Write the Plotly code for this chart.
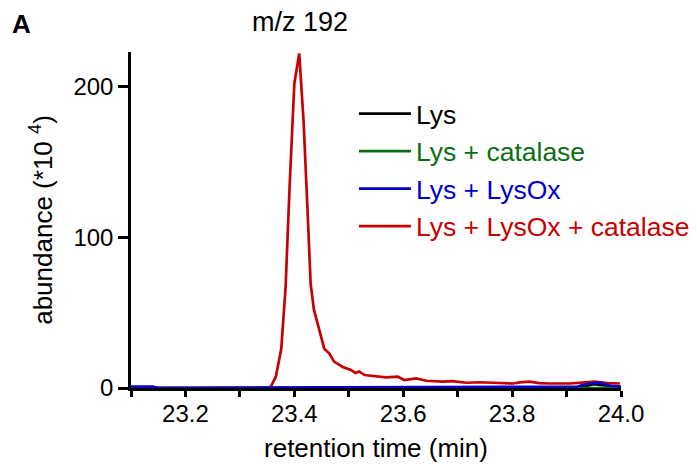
import plotly.graph_objects as go

# Retention time (min) and abundance (*10^4)
t_red = [23.10, 23.35, 23.357, 23.366, 23.376, 23.384, 23.391, 23.400, 23.409, 23.417,
         23.424, 23.430, 23.436, 23.446, 23.455, 23.464, 23.473, 23.489, 23.504, 23.512,
         23.519, 23.529, 23.550, 23.568, 23.590, 23.602, 23.624, 23.642, 23.673, 23.690,
         23.716, 23.740, 23.765, 23.784, 23.802, 23.814, 23.832, 23.850, 23.869, 23.906,
         23.930, 23.952, 23.975, 23.998]
v_red = [0, 0, 1, 7.5, 26, 67, 131, 202, 222, 177,
         120, 69, 52, 38, 26, 23, 17.5, 14, 12, 10,
         11, 8.6, 8, 7, 7.5, 5.3, 6.4, 4.8, 4.2, 4.5,
         3.5, 3.8, 3.5, 3.2, 3, 3.7, 4.2, 3.3, 3, 3,
         3.5, 4.2, 3.2, 3]

t_blue = [23.10, 23.14, 23.15, 23.92, 23.94, 23.96, 23.98, 24.0]
v_blue = [1, 1, 0, 1, 3, 3.5, 1.5, 1]

t_black = [23.10, 23.92, 23.95, 23.98, 24.0]
v_black = [0, 0, 2.5, 1, 0.5]

t_green = [23.10, 24.0]
v_green = [0, 0]

series = [
    ("Lys", t_black, v_black, "#000000"),
    ("Lys + catalase", t_green, v_green, "#0b6e14"),
    ("Lys + LysOx + catalase", t_red, v_red, "#c80000"),
    ("Lys + LysOx", t_blue, v_blue, "#0000c8"),
]
ranks = {"Lys": 1, "Lys + catalase": 2, "Lys + LysOx": 3, "Lys + LysOx + catalase": 4}

x_ticks = [23.1, 23.2, 23.3, 23.4, 23.5, 23.6, 23.7, 23.8, 23.9, 24.0]
x_tick_text = ["", "23.2", "", "23.4", "", "23.6", "", "23.8", "", "24.0"]
y_ticks = [0, 100, 200]

FONT = "Liberation Sans, Arial, Helvetica, sans-serif"

# The page body adds an 8px offset; the figure is made wider than the window
# so the legend has room and does not push the plot margins.
W, H, OFF = 740, 456, 8

fig = go.Figure()
for name, t, v, c in series:
    fig.add_trace(go.Scatter(
        x=t, y=v, mode="lines", line=dict(color=c, width=2.7),
        name=f"<span style='color:{c}'>{name}</span>",
        legendgroup=name, legendrank=ranks[name],
    ))

fig.update_layout(
    width=W, height=H,
    margin=dict(l=131 - OFF, r=W - (621 - OFF), t=52 - OFF, b=H - (388 - OFF)),
    paper_bgcolor="white", plot_bgcolor="white",
    font=dict(family=FONT, color="black", size=24),
    showlegend=True,
    legend=dict(x=0.455, y=0.887, xanchor="left", yanchor="top",
                font=dict(size=26.5), tracegroupgap=0, itemwidth=52,
                bgcolor="rgba(0,0,0,0)"),
    title=dict(text="m/z 192", x=(300 - OFF) / W, xref="container", xanchor="center",
               y=1 - (22 - OFF) / H, yref="container", yanchor="middle",
               font=dict(size=27, family=FONT)),
    annotations=[dict(text="<b>A</b>", x=(21 - 131) / 490, y=(388 - 24) / 336,
                      xref="paper", yref="paper", xanchor="center", yanchor="middle",
                      showarrow=False, font=dict(size=26, family=FONT))],
    xaxis=dict(range=[23.1, 24.0], tickvals=x_ticks, ticktext=x_tick_text,
               ticks="outside", ticklen=6, tickwidth=2.5, tickcolor="black",
               showline=True, linecolor="black", linewidth=2.5, showgrid=False,
               zeroline=False, tickfont=dict(size=24), automargin=False,
               ticklabelstandoff=-4,
               title=dict(text="retention time (min)", font=dict(size=26), standoff=14)),
    yaxis=dict(range=[0, 223], tickvals=y_ticks,
               ticks="outside", ticklen=10, tickwidth=2.5, tickcolor="black",
               showline=True, linecolor="black", linewidth=2.5, showgrid=False,
               zeroline=False, tickfont=dict(size=24), automargin=False,
               title=dict(text="abundance (*10 <sup>4</sup>)", font=dict(size=26), standoff=14)),
)

fig.write_html("out.html")
